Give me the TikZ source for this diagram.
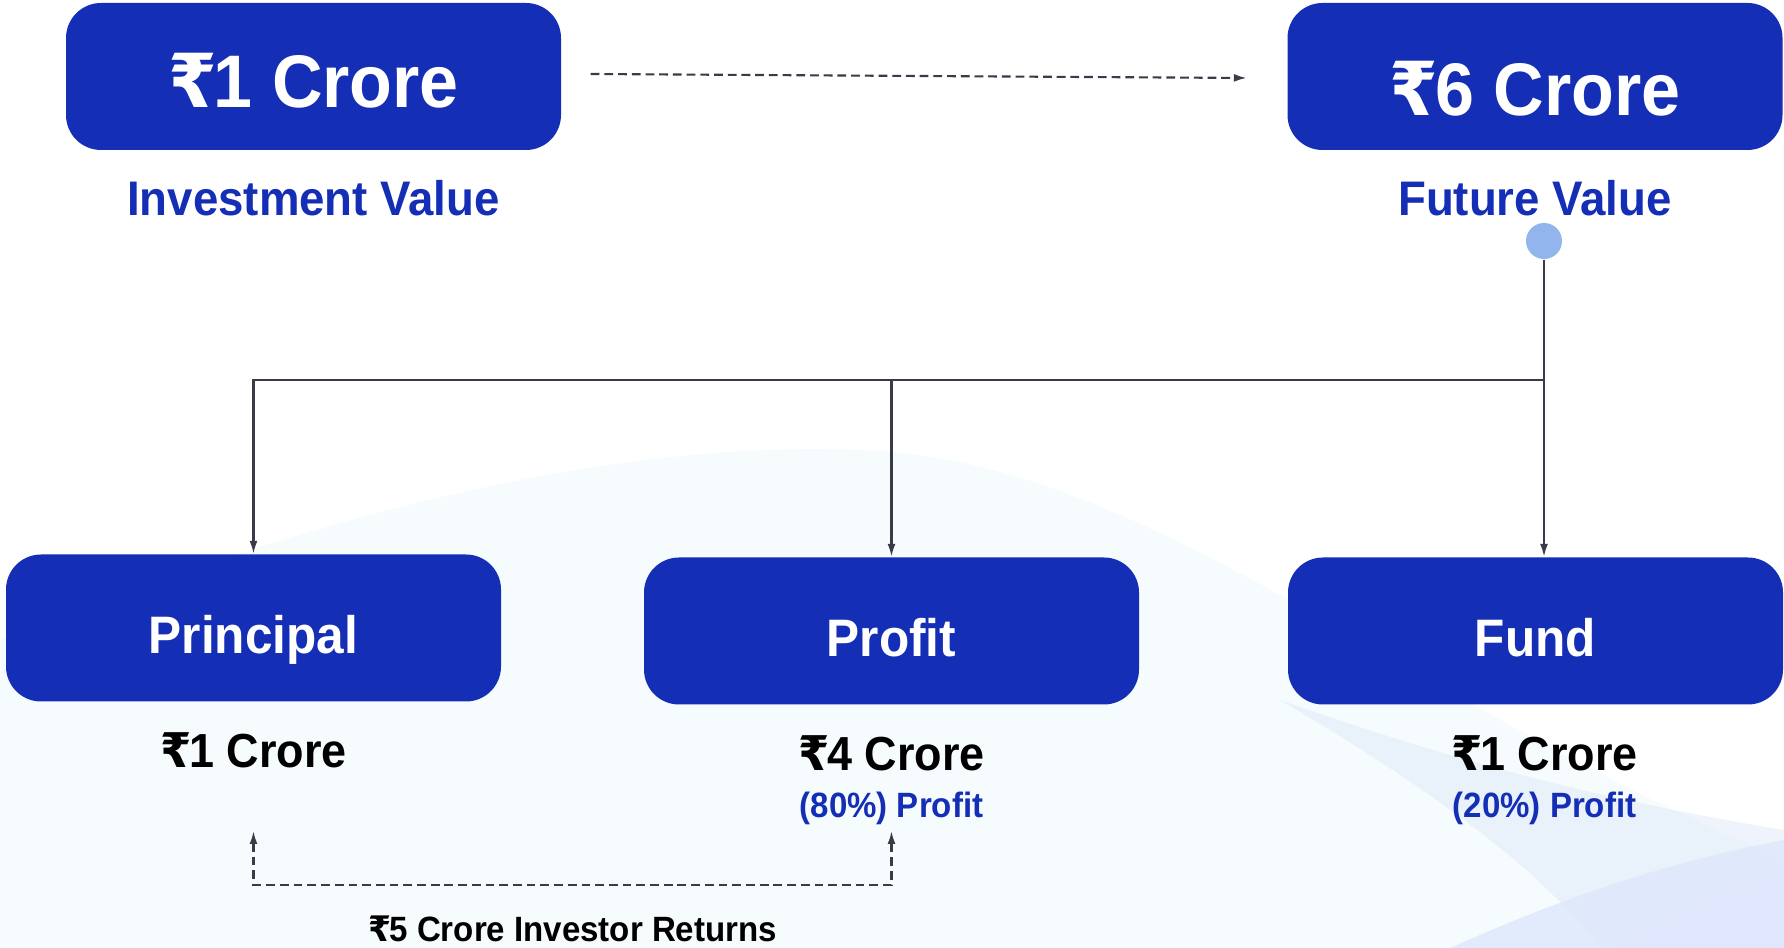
\documentclass[tikz,border=0pt]{standalone}
\usepackage{fontspec}
\setmainfont[FakeStretch=0.94]{Liberation Sans}
\newfontfamily\rupeefont[FakeStretch=0.94]{DejaVu Sans}
\newcommand{\rupee}{{\rupeefont ₹}\kern-0.04em}
\usetikzlibrary{arrows.meta,positioning}
\definecolor{boxblue}{RGB}{20,46,181}
\definecolor{dotblue}{RGB}{147,181,238}
\definecolor{linegray}{RGB}{58,58,72}
\definecolor{wave}{RGB}{222,232,251}
\definecolor{wavecyan}{RGB}{232,244,252}

\begin{document}
\begin{tikzpicture}[
    valbox/.style={fill=boxblue, rounded corners=0.35cm, minimum width=4.95cm, minimum height=1.47cm, inner sep=0pt},
    boxtxt/.style={text=white, font=\bfseries\fontsize{21.2}{24}\selectfont, inner sep=0pt, text depth=0pt},
    nametxt/.style={text=white, font=\bfseries\fontsize{15}{18}\selectfont, inner sep=0pt, text depth=0pt},
    bluelbl/.style={text=boxblue, font=\bfseries\fontsize{13.8}{16}\selectfont, inner sep=0pt, text depth=0pt},
    valtxt/.style={text=black, font=\bfseries\fontsize{13.6}{16}\selectfont, inner sep=0pt, text depth=0pt},
    sharetxt/.style={text=boxblue, font=\bfseries\fontsize{10}{12}\selectfont, inner sep=0pt, text depth=0pt},
    flowline/.style={draw=linegray, line width=0.6pt, -{Latex[length=0.13cm,width=0.08cm]}},
    dashline/.style={flowline, dash pattern=on 2.5pt off 1.4pt},
]
    \fill[white] (0,0) rectangle (17.84,-9.48);
    \useasboundingbox (0,0) rectangle (17.84,-9.48);
    \fill[wavecyan, opacity=0.35] (0,-6.4) .. controls (3,-5.2) and (6,-4.4) .. (8.6,-4.5)
        .. controls (11.5,-4.6) and (14,-7) .. (17.84,-8.6) -- (17.84,-9.48) -- (0,-9.48) -- cycle;
    \fill[wave, opacity=0.5] (12.8,-7.0) .. controls (14.5,-7.6) and (16,-8.0) .. (17.84,-8.3)
        -- (17.84,-9.48) -- (16,-9.48) .. controls (15.5,-8.8) and (14.5,-8.0) .. (12.8,-7.0) -- cycle;
    \fill[wave, opacity=0.8] (14.5,-9.48) .. controls (15.8,-8.9) and (16.8,-8.6) .. (17.84,-8.4)
        -- (17.84,-9.48) -- cycle;
    \fill[wave!60!blue!25, opacity=0.3] (16.2,-9.48) .. controls (16.8,-9.1) and (17.3,-8.9) .. (17.84,-8.7)
        -- (17.84,-9.48) -- cycle;

    \node[valbox] (inv) at (3.135,-0.765) {};
    \node[boxtxt] (inv-txt) at ([yshift=-0.035cm]inv.center) {\rupee1 Crore};
    \node[bluelbl, below=0.29cm of inv] (inv-lbl) {Investment Value};

    \node[valbox] (fut) at (15.35,-0.765) {};
    \node[boxtxt] (fut-txt) at ([yshift=-0.115cm]fut.center) {\rupee6 Crore};
    \node[bluelbl, below=0.29cm of fut] (fut-lbl) {Future Value};

    \node[circle, fill=dotblue, minimum size=0.36cm, inner sep=0pt] (split-dot) at (15.44,-2.41) {};

    \node[valbox] (prin) at (2.535,-6.28) {};
    \node[nametxt] (prin-txt) at ([yshift=-0.06cm]prin.center) {Principal};
    \node[valbox] (prof) at (8.915,-6.31) {};
    \node[nametxt] (prof-txt) at ([yshift=-0.06cm]prof.center) {Profit};
    \node[valbox] (fund) at (15.355,-6.31) {};
    \node[nametxt] (fund-txt) at ([yshift=-0.06cm]fund.center) {Fund};

    \node[valtxt, below=0.30cm of prin] (prin-val) {\rupee1 Crore};
    \node[valtxt, below=0.30cm of prof] (prof-val) {\rupee4 Crore};
    \node[sharetxt, below=0.2cm of prof-val] (prof-share) {(80\%) Profit};
    \node[valtxt, below=0.30cm of fund, xshift=0.09cm] (fund-val) {\rupee1 Crore};
    \node[sharetxt, below=0.2cm of fund-val] (fund-share) {(20\%) Profit};

    \draw[dashline] ([xshift=0.29cm,yshift=0.025cm]inv.east) -- ([xshift=-0.4cm,yshift=-0.015cm]fut.west);

    \coordinate (branch) at (15.44,-3.80);
    \draw[flowline] (split-dot) -- (split-dot |- fund.north);
    \draw[flowline] (branch) -| (prin.north);
    \draw[flowline] (branch -| prof.north) -- (prof.north);

    \coordinate (ret-l) at (2.535,-8.31);
    \coordinate (ret-r) at (8.915,-8.31);
    \coordinate (ret-mid) at (5.725,-8.85);
    \draw[dashline, {Latex[length=0.13cm,width=0.08cm]}-{Latex[length=0.13cm,width=0.08cm]}]
        (ret-l) |- (ret-mid) -| (ret-r);
    \node[valtxt, font=\bfseries\fontsize{10}{12}\selectfont, below=0.30cm of ret-mid] (ret-lbl) {\rupee5 Crore Investor Returns};
\end{tikzpicture}
\end{document}
